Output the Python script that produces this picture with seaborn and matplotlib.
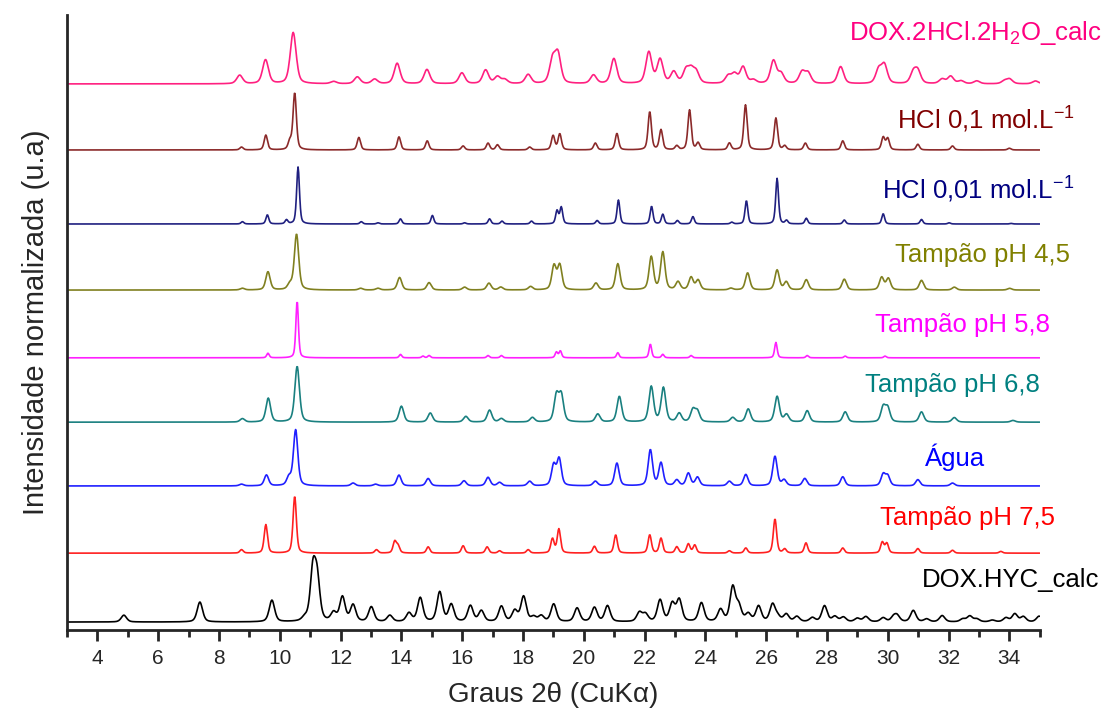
import numpy as np
import pandas as pd
import matplotlib
matplotlib.use("Agg")
import matplotlib.pyplot as plt
import seaborn as sns

# ---------------- data: peak positions (2theta, deg) and relative heights ----------------
hyc_pos = [4.87, 7.37, 9.74, 10.82, 11.09, 11.23, 11.77, 12.06, 12.41, 13.01, 13.62, 14.25, 14.62,
           15.26, 15.64, 16.27, 16.63, 17.29, 17.73, 18.02, 18.35, 18.60, 19.01, 19.78, 20.35, 20.78,
           21.83, 22.03, 22.51, 22.91, 23.14, 23.87, 24.50, 24.90, 25.10, 25.41, 25.75, 26.21, 26.38,
           26.66, 27.01, 27.52, 27.92, 28.26, 28.54, 29.00, 29.28, 29.85, 30.19, 30.31, 30.84, 31.28,
           31.79, 32.47, 32.70, 32.93, 33.44, 33.89, 34.18, 34.46, 34.98]
hyc_int = [12, 35, 38, 6, 88, 70, 15, 43, 29, 26, 11, 15, 42,
           52, 30, 28, 19, 27, 19, 44, 8, 10, 31, 24, 25, 28,
           16, 13, 38, 31, 38, 33, 21, 60, 26, 13, 27, 30, 8,
           13, 9, 7, 28, 9, 8, 6, 9, 7, 8, 10, 20, 5,
           11, 5, 10, 5, 3, 7, 14, 9, 10]

ph75_pos = [8.74, 9.54, 10.49, 13.18, 13.78, 13.89, 14.88, 16.03, 16.82, 17.23, 18.17, 18.97, 19.18,
            20.35, 21.05, 22.17, 22.54, 23.06, 23.44, 23.65, 24.79, 25.33, 26.29, 26.61, 27.31,
            28.52, 29.82, 29.97, 30.99, 32.13, 33.72]
ph75_int = [6, 50, 100, 6, 20, 12, 11, 13, 11, 4, 6, 25, 42,
            12, 32, 32, 26, 11, 16, 14, 4, 9, 60, 7, 18,
            9, 19, 17, 8, 5, 3]

agua_pos = [8.74, 9.56, 10.30, 10.52, 12.41, 13.15, 13.92, 14.88, 16.06, 16.85, 17.23, 18.22, 19.01,
            19.19, 20.38, 21.09, 22.19, 22.54, 23.06, 23.44, 23.74, 24.79, 25.33, 26.29, 26.59,
            27.27, 28.52, 29.85, 30.00, 30.99, 32.13]
agua_int = [3, 19, 14, 98, 5, 3, 19, 13, 9, 15, 6, 8, 36,
            47, 8, 40, 63, 40, 10, 22, 15, 8, 20, 52, 10,
            13, 16, 20, 17, 11, 5]

ph68_pos = [8.77, 9.62, 10.57, 14.00, 14.95, 16.12, 16.90, 17.29, 18.31, 19.10, 19.26, 20.46, 21.17,
            22.22, 22.62, 23.14, 23.59, 23.74, 24.90, 25.41, 26.36, 26.67, 27.35, 28.60, 29.85,
            30.00, 31.11, 32.19, 34.12]
ph68_int = [6, 42, 98, 28, 16, 10, 21, 6, 8, 46, 46, 14, 45,
            62, 60, 15, 21, 18, 8, 23, 45, 13, 20, 18, 26,
            24, 18, 8, 3]

ph58_pos = [9.61, 10.57, 13.97, 14.71, 14.91, 16.85, 17.29, 19.10, 19.23, 21.12, 22.19, 22.60,
            23.53, 26.32, 27.35, 28.60, 29.91]
ph58_int = [8, 100, 6, 3, 4, 4, 4, 10, 12, 9, 24, 6,
            4, 27, 4, 3, 3]

ph45_pos = [8.77, 9.61, 10.33, 10.55, 12.66, 13.23, 13.94, 14.91, 16.08, 16.88, 17.27, 18.25, 19.02,
            19.21, 20.40, 21.12, 22.22, 22.60, 23.10, 23.53, 23.76, 24.84, 25.39, 26.36, 26.66,
            27.32, 28.57, 29.80, 30.02, 31.11, 32.19, 34.01]
ph45_int = [3, 32, 9, 98, 3, 3, 22, 13, 5, 12, 5, 6, 42,
            43, 12, 46, 58, 66, 14, 22, 17, 3, 30, 35, 14,
            18, 19, 22, 20, 17, 5, 3]

hcl001_pos = [8.77, 9.59, 10.22, 10.60, 12.68, 13.23, 13.97, 15.02, 16.08, 16.90, 17.31, 18.28, 19.12,
              19.26, 20.44, 21.14, 22.23, 22.60, 23.08, 23.59, 24.87, 25.35, 26.36, 26.67, 27.32,
              28.57, 29.85, 31.11, 32.02, 34.06]
hcl001_int = [4, 16, 7, 100, 4, 2, 9, 15, 2, 9, 5, 5, 23,
              29, 6, 42, 31, 17, 6, 13, 3, 41, 80, 6, 10,
              7, 18, 8, 2, 1]

hcl01_pos = [8.74, 9.54, 10.33, 10.49, 12.60, 13.92, 14.85, 16.03, 16.85, 17.16, 18.22, 18.99, 19.21,
             20.38, 21.09, 22.17, 22.54, 23.06, 23.48, 23.76, 24.79, 25.32, 26.32, 26.61, 27.29,
             28.52, 29.85, 30.00, 30.99, 32.13, 34.00]
hcl01_int = [5, 26, 14, 100, 22, 23, 16, 7, 12, 9, 5, 25, 28,
             12, 29, 67, 35, 7, 70, 12, 12, 79, 56, 7, 12,
             16, 22, 20, 10, 7, 3]

dihyd_pos = [8.68, 9.53, 10.44, 11.77, 12.55, 13.12, 13.86, 14.84, 15.99, 16.77, 17.16, 17.40, 18.17,
             18.97, 19.15, 20.32, 20.99, 22.14, 22.51, 22.96, 23.36, 23.53, 23.70, 24.75, 24.96,
             25.24, 25.58, 26.24, 26.49, 27.18, 27.38, 28.45, 29.70, 29.89, 30.84, 30.99, 31.79,
             32.07, 32.41, 32.93, 33.84, 34.01, 34.86]
dihyd_int = [15, 42, 90, 4, 12, 8, 36, 25, 19, 24, 12, 7, 16,
             40, 50, 15, 44, 55, 42, 20, 22, 21, 19, 13, 16,
             29, 6, 40, 17, 20, 18, 30, 24, 32, 19, 21, 8,
             13, 5, 5, 5, 8, 5]

labels = ["DOX.HYC_calc", "Tampão pH 7,5", "Água", "Tampão pH 6,8", "Tampão pH 5,8",
          "Tampão pH 4,5", r"HCl 0,01 mol.L$^{-1}$", r"HCl 0,1 mol.L$^{-1}$",
          r"DOX.2HCl.2H$_2$O_calc"]
x_ticks = [4, 6, 8, 10, 12, 14, 16, 18, 20, 22, 24, 26, 28, 30, 32, 34]

# ---------------- styles / layout ----------------
series = [hyc_pos, ph75_pos, agua_pos, ph68_pos, ph58_pos, ph45_pos, hcl001_pos, hcl01_pos, dihyd_pos]
heights = [hyc_int, ph75_int, agua_int, ph68_int, ph58_int, ph45_int, hcl001_int, hcl01_int, dihyd_int]
offsets = [14, 135, 253, 365, 478, 597, 713, 843, 959]
fwhm = [0.21, 0.13, 0.17, 0.18, 0.10, 0.17, 0.11, 0.13, 0.23]
colors = ["#000000", "#FF0000", "#0000FF", "#008080", "#FF00FF", "#808000", "#000080", "#800000", "#FF0080"]
line_colors = ["#000000", "#FF2020", "#2020FF", "#1A8080", "#FF20FF", "#808020", "#202080", "#8B2A2A", "#FF2080"]
# label anchor (right edge, in axis units)
label_xy = [(36.97, 88), (35.49, 197), (33.19, 304), (35.00, 430), (35.33, 536),
            (35.99, 658), (36.15, 773), (36.15, 896), (37.05, 1048)]

x = np.arange(3.0, 35.0001, 0.02)


def profile(pos, ints, w):
    y = np.zeros_like(x)
    hw = w / 2.0
    for p, h in zip(pos, ints):
        d = ((x - p) / hw) ** 2
        y += h * (0.45 / (1 + d) + 0.55 * np.exp(-np.log(2) * d))
    return y


frames = []
for i, (pos, ints) in enumerate(zip(series, heights)):
    y = profile(pos, ints, fwhm[i])
    frames.append(pd.DataFrame({"x": x, "y": y * 0.57 * 1.756 + offsets[i], "s": i}))
df = pd.concat(frames, ignore_index=True)

sns.set_style("ticks")
plt.rcParams["font.family"] = ["Liberation Sans", "DejaVu Sans"]
plt.rcParams["mathtext.fontset"] = "custom"
plt.rcParams["mathtext.rm"] = "Liberation Sans"
plt.rcParams["mathtext.it"] = "Liberation Sans"

fig = plt.figure(figsize=(11.1, 7.11), dpi=100)
ax = fig.add_axes([0.0604, 0.1139, 0.9367 - 0.0604, 0.9789 - 0.1139])

for i in range(len(series)):
    sub = df[df["s"] == i]
    sns.lineplot(data=sub, x="x", y="y", ax=ax, color=line_colors[i], lw=1.2,
                 estimator=None, sort=False, legend=False)

for i, lab in enumerate(labels):
    ax.text(label_xy[i][0], label_xy[i][1], lab, color=colors[i], fontsize=18.5,
            ha="right", va="center", clip_on=False)

ax.set_xlim(3, 35)
ax.set_ylim(0, 1080)
ax.set_yticks([])
ax.set_xticks(x_ticks)
ax.set_xticks(np.arange(3, 35.5, 2), minor=True)
ax.set_xticklabels([str(t) for t in x_ticks], fontsize=15)
ax.tick_params(axis="x", which="major", length=8, width=2, direction="out", pad=6)
ax.tick_params(axis="x", which="minor", length=5, width=2, direction="out")
for s in ["top", "right"]:
    ax.spines[s].set_visible(False)
for s in ["left", "bottom"]:
    ax.spines[s].set_linewidth(2)
ax.set_xlabel("Graus 2θ (CuKα)", fontsize=20, labelpad=10)
ax.set_ylabel("Intensidade normalizada (u.a)", fontsize=21, labelpad=12)

fig.savefig("out.png", dpi=100)
